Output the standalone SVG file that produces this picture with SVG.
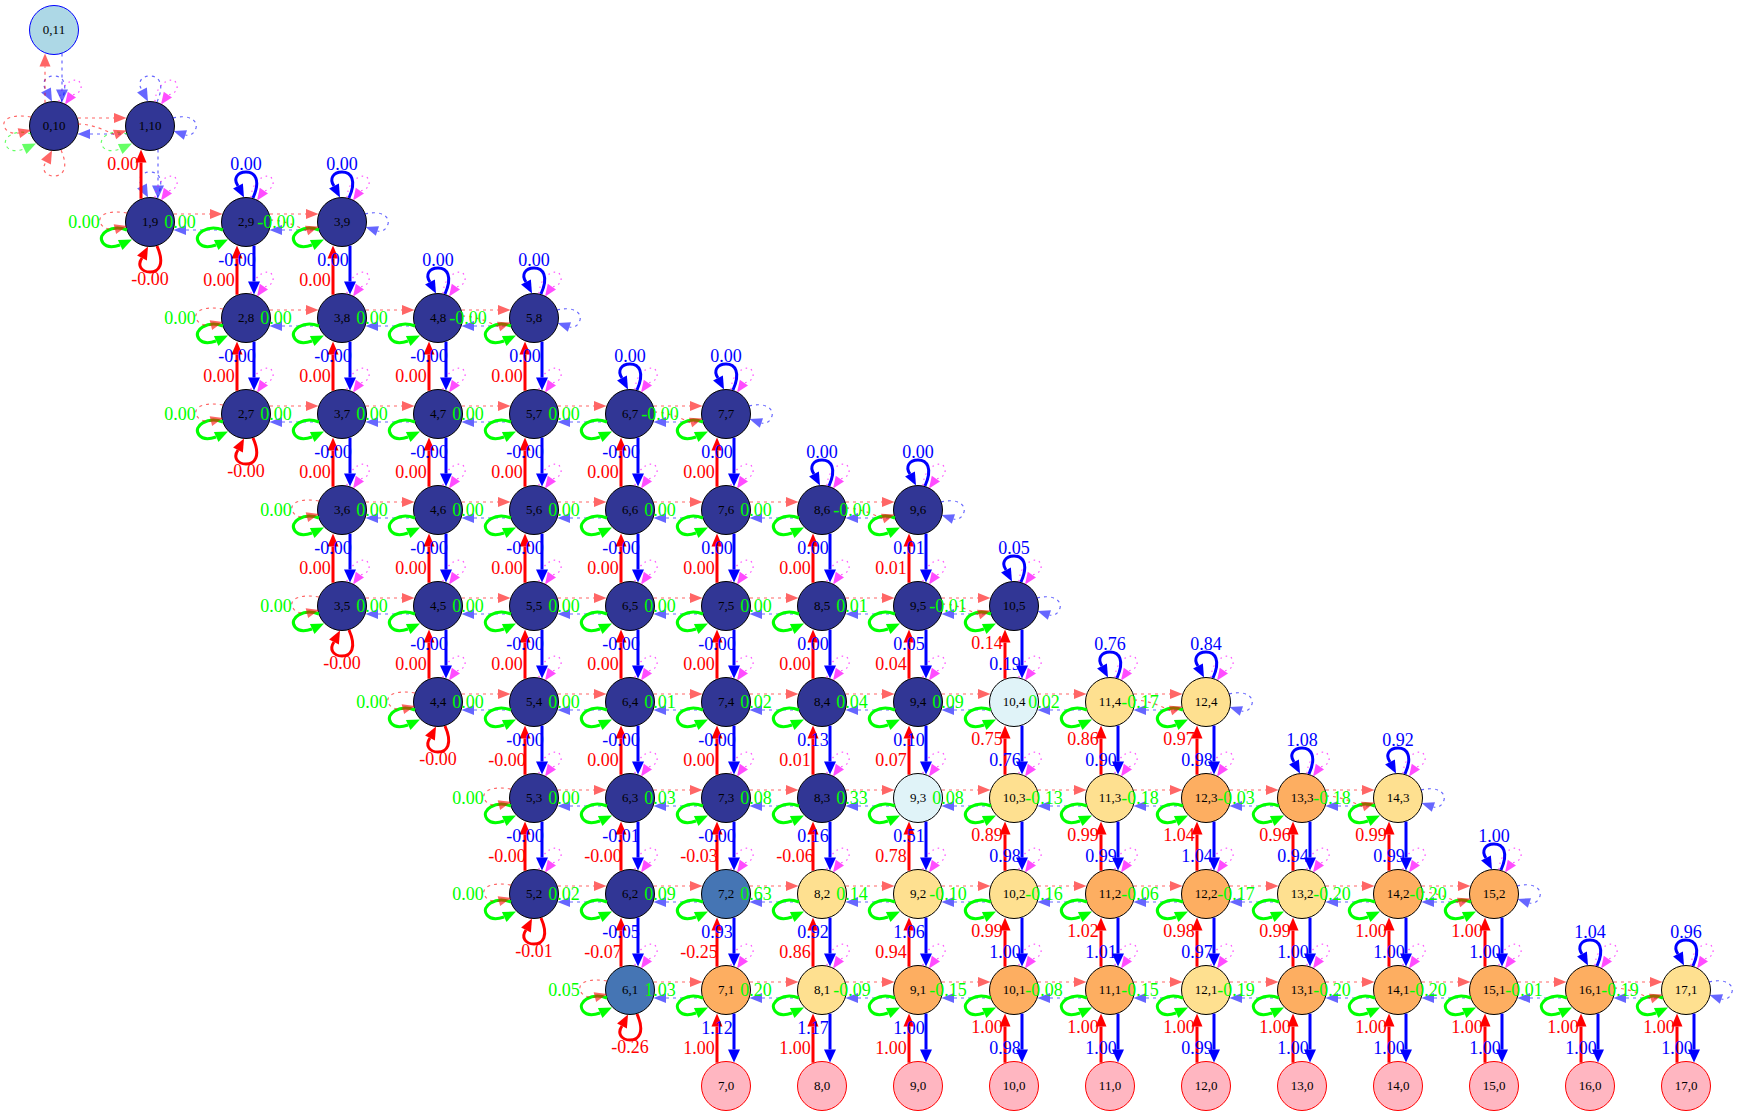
<svg xmlns="http://www.w3.org/2000/svg" width="1741" height="1117" viewBox="0 0 1741 1117">
<defs>
<style>
circle{stroke:#000;stroke-width:1}
.k0{fill:#313695}.k1{fill:#4575b4}.k2{fill:#e0f3f8}.k3{fill:#fee090}.k4{fill:#fdae61}
.kt{fill:#ffb6c1;stroke:#f00}.ks{fill:#add8e6;stroke:#00f}
text{font-family:"Liberation Serif","Times New Roman",serif;text-anchor:middle}
.nl text{font-size:13px;fill:#000}
.el text{font-size:18px}
.lg{fill:#0f0}.lb{fill:#00f}.lr{fill:#f00}
.sg{fill:none;stroke:#0f0;stroke-width:3}.fg{fill:#0f0}
.sr{fill:none;stroke:#f00;stroke-width:3}.fr{fill:#f00}
.sb{fill:none;stroke:#00f;stroke-width:3}.fb{fill:#00f}
.dr{fill:none;stroke:#f00;stroke-width:1.2;stroke-dasharray:3,4;opacity:.6}.ar{fill:#f00;opacity:.6}
.db{fill:none;stroke:#00f;stroke-width:1.2;stroke-dasharray:3,4;opacity:.6}.ab{fill:#00f;opacity:.6}
.dg{fill:none;stroke:#0f0;stroke-width:1.2;stroke-dasharray:3,4;opacity:.6}.ag{fill:#0f0;opacity:.6}
.dm{fill:none;stroke:#f0f;stroke-width:1.2;stroke-dasharray:1.5,4;opacity:.7}.am{fill:#f0f;opacity:.7}
</style>
<g id="gL"><path class="sg" d="M-23,8C-38,2 -54,12 -47,21C-43,26 -36,25 -30,23"/><polygon class="fg" points="-18,17.5 -27.5,28 -32.1,18"/></g>
<g id="gLd"><path class="dg" d="M-23,8C-38,2 -54,12 -47,21C-43,26 -36,25 -30,23"/><polygon class="ag" points="-18,17.5 -27.5,28 -32.1,18"/></g>
<g id="mL"><path class="dm" d="M5,-24.5C6,-45 26,-52 27,-40C28,-34 22,-32 18,-31"/><polygon class="am" points="11,-21.5 13.8,-34.2 22,-28.4"/></g>
<g id="rH"><path class="dr" d="M-72,-8H-36"/><polygon class="ar" points="-23.5,-8 -36,-13 -36,-3"/></g>
<g id="rLL"><path class="dr" d="M-23,-9C-40,-12 -52,-8 -50,0C-48,6 -42,8 -35,7"/><polygon class="ar" points="-23,4 -36.3,2.2 -33.9,11.9"/></g>
<g id="r2"><path class="dr" d="M-72,-2C-58,-2 -46,4 -35.4,8.5"/><polygon class="ar" points="-23.5,4.5 -37,3.7 -33.8,13.2"/></g>
<g id="bH"><path class="db" d="M36,8H72"/><polygon class="ab" points="23.5,8 36,3 36,13"/></g>
<g id="bRL"><path class="db" d="M23,-8C38,-12 48,-6 46,2C44,8 40,10 35.4,9"/><polygon class="ab" points="23.5,5 37,4.2 33.8,13.7"/></g>
<g id="bT"><path class="sb" d="M7,-24C15,-42 9,-50 0,-50C-9,-50 -13,-43 -8,-36"/><polygon class="fb" points="-2,-24.5 -12.9,-33.5 -3.1,-38.5"/></g>
<g id="bTd"><path class="db" d="M7,-24C15,-42 9,-50 0,-50C-9,-50 -13,-43 -8,-36"/><polygon class="ab" points="-2,-24.5 -12.9,-33.5 -3.1,-38.5"/></g>
<g id="rB"><path class="sr" d="M7,24C15,42 9,50 0,50C-9,50 -13,43 -8,36"/><polygon class="fr" points="-2,24.5 -12.9,33.5 -3.1,38.5"/></g>
<g id="rBd"><path class="dr" d="M7,24C15,42 9,50 0,50C-9,50 -13,43 -8,36"/><polygon class="ar" points="-2,24.5 -12.9,33.5 -3.1,38.5"/></g>
<g id="rV"><path class="sr" d="M-9,-23.3V-59.5"/><polygon class="fr" points="-9,-72.5 -14.5,-59.5 -3.5,-59.5"/></g>
<g id="bV"><path class="sb" d="M8,23.6V59.5"/><polygon class="fb" points="8,72.5 2,59.5 14,59.5"/></g>
<g id="rVd"><path class="dr" d="M-9,-23.3V-59.5"/><polygon class="ar" points="-9,-72.5 -14.5,-59.5 -3.5,-59.5"/></g>
<g id="bVd"><path class="db" d="M8,23.6V59.5"/><polygon class="ab" points="8,72.5 2,59.5 14,59.5"/></g>
<g id="vp"><use href="#rV"/><use href="#bV" y="-96"/></g>
<g id="std"><use href="#gL"/><use href="#mL"/><use href="#rH"/><use href="#bH"/></g>
<g id="lft"><use href="#gL"/><use href="#mL"/><use href="#rLL"/><use href="#bH"/></g>
<g id="rgt"><use href="#gL"/><use href="#mL"/><use href="#rH"/><use href="#bRL"/><use href="#r2"/></g>
</defs>
<rect width="1741" height="1117" fill="#fff"/>
<g id="nodes" class="nl">
<g id="n0_11"><circle class="ks" cx="54" cy="30" r="24.5"/><text x="54" y="34.4">0,11</text></g>
<g id="n0_10"><circle class="k0" cx="54" cy="126" r="24.5"/><text x="54" y="130.4">0,10</text></g>
<g id="n1_10"><circle class="k0" cx="150" cy="126" r="24.5"/><text x="150" y="130.4">1,10</text></g>
<g id="n1_9"><circle class="k0" cx="150" cy="222" r="24.5"/><text x="150" y="226.4">1,9</text></g>
<g id="n2_9"><circle class="k0" cx="246" cy="222" r="24.5"/><text x="246" y="226.4">2,9</text></g>
<g id="n3_9"><circle class="k0" cx="342" cy="222" r="24.5"/><text x="342" y="226.4">3,9</text></g>
<g id="n2_8"><circle class="k0" cx="246" cy="318" r="24.5"/><text x="246" y="322.4">2,8</text></g>
<g id="n3_8"><circle class="k0" cx="342" cy="318" r="24.5"/><text x="342" y="322.4">3,8</text></g>
<g id="n4_8"><circle class="k0" cx="438" cy="318" r="24.5"/><text x="438" y="322.4">4,8</text></g>
<g id="n5_8"><circle class="k0" cx="534" cy="318" r="24.5"/><text x="534" y="322.4">5,8</text></g>
<g id="n2_7"><circle class="k0" cx="246" cy="414" r="24.5"/><text x="246" y="418.4">2,7</text></g>
<g id="n3_7"><circle class="k0" cx="342" cy="414" r="24.5"/><text x="342" y="418.4">3,7</text></g>
<g id="n4_7"><circle class="k0" cx="438" cy="414" r="24.5"/><text x="438" y="418.4">4,7</text></g>
<g id="n5_7"><circle class="k0" cx="534" cy="414" r="24.5"/><text x="534" y="418.4">5,7</text></g>
<g id="n6_7"><circle class="k0" cx="630" cy="414" r="24.5"/><text x="630" y="418.4">6,7</text></g>
<g id="n7_7"><circle class="k0" cx="726" cy="414" r="24.5"/><text x="726" y="418.4">7,7</text></g>
<g id="n3_6"><circle class="k0" cx="342" cy="510" r="24.5"/><text x="342" y="514.4">3,6</text></g>
<g id="n4_6"><circle class="k0" cx="438" cy="510" r="24.5"/><text x="438" y="514.4">4,6</text></g>
<g id="n5_6"><circle class="k0" cx="534" cy="510" r="24.5"/><text x="534" y="514.4">5,6</text></g>
<g id="n6_6"><circle class="k0" cx="630" cy="510" r="24.5"/><text x="630" y="514.4">6,6</text></g>
<g id="n7_6"><circle class="k0" cx="726" cy="510" r="24.5"/><text x="726" y="514.4">7,6</text></g>
<g id="n8_6"><circle class="k0" cx="822" cy="510" r="24.5"/><text x="822" y="514.4">8,6</text></g>
<g id="n9_6"><circle class="k0" cx="918" cy="510" r="24.5"/><text x="918" y="514.4">9,6</text></g>
<g id="n3_5"><circle class="k0" cx="342" cy="606" r="24.5"/><text x="342" y="610.4">3,5</text></g>
<g id="n4_5"><circle class="k0" cx="438" cy="606" r="24.5"/><text x="438" y="610.4">4,5</text></g>
<g id="n5_5"><circle class="k0" cx="534" cy="606" r="24.5"/><text x="534" y="610.4">5,5</text></g>
<g id="n6_5"><circle class="k0" cx="630" cy="606" r="24.5"/><text x="630" y="610.4">6,5</text></g>
<g id="n7_5"><circle class="k0" cx="726" cy="606" r="24.5"/><text x="726" y="610.4">7,5</text></g>
<g id="n8_5"><circle class="k0" cx="822" cy="606" r="24.5"/><text x="822" y="610.4">8,5</text></g>
<g id="n9_5"><circle class="k0" cx="918" cy="606" r="24.5"/><text x="918" y="610.4">9,5</text></g>
<g id="n10_5"><circle class="k0" cx="1014" cy="606" r="24.5"/><text x="1014" y="610.4">10,5</text></g>
<g id="n4_4"><circle class="k0" cx="438" cy="702" r="24.5"/><text x="438" y="706.4">4,4</text></g>
<g id="n5_4"><circle class="k0" cx="534" cy="702" r="24.5"/><text x="534" y="706.4">5,4</text></g>
<g id="n6_4"><circle class="k0" cx="630" cy="702" r="24.5"/><text x="630" y="706.4">6,4</text></g>
<g id="n7_4"><circle class="k0" cx="726" cy="702" r="24.5"/><text x="726" y="706.4">7,4</text></g>
<g id="n8_4"><circle class="k0" cx="822" cy="702" r="24.5"/><text x="822" y="706.4">8,4</text></g>
<g id="n9_4"><circle class="k0" cx="918" cy="702" r="24.5"/><text x="918" y="706.4">9,4</text></g>
<g id="n10_4"><circle class="k2" cx="1014" cy="702" r="24.5"/><text x="1014" y="706.4">10,4</text></g>
<g id="n11_4"><circle class="k3" cx="1110" cy="702" r="24.5"/><text x="1110" y="706.4">11,4</text></g>
<g id="n12_4"><circle class="k3" cx="1206" cy="702" r="24.5"/><text x="1206" y="706.4">12,4</text></g>
<g id="n5_3"><circle class="k0" cx="534" cy="798" r="24.5"/><text x="534" y="802.4">5,3</text></g>
<g id="n6_3"><circle class="k0" cx="630" cy="798" r="24.5"/><text x="630" y="802.4">6,3</text></g>
<g id="n7_3"><circle class="k0" cx="726" cy="798" r="24.5"/><text x="726" y="802.4">7,3</text></g>
<g id="n8_3"><circle class="k0" cx="822" cy="798" r="24.5"/><text x="822" y="802.4">8,3</text></g>
<g id="n9_3"><circle class="k2" cx="918" cy="798" r="24.5"/><text x="918" y="802.4">9,3</text></g>
<g id="n10_3"><circle class="k3" cx="1014" cy="798" r="24.5"/><text x="1014" y="802.4">10,3</text></g>
<g id="n11_3"><circle class="k3" cx="1110" cy="798" r="24.5"/><text x="1110" y="802.4">11,3</text></g>
<g id="n12_3"><circle class="k4" cx="1206" cy="798" r="24.5"/><text x="1206" y="802.4">12,3</text></g>
<g id="n13_3"><circle class="k4" cx="1302" cy="798" r="24.5"/><text x="1302" y="802.4">13,3</text></g>
<g id="n14_3"><circle class="k3" cx="1398" cy="798" r="24.5"/><text x="1398" y="802.4">14,3</text></g>
<g id="n5_2"><circle class="k0" cx="534" cy="894" r="24.5"/><text x="534" y="898.4">5,2</text></g>
<g id="n6_2"><circle class="k0" cx="630" cy="894" r="24.5"/><text x="630" y="898.4">6,2</text></g>
<g id="n7_2"><circle class="k1" cx="726" cy="894" r="24.5"/><text x="726" y="898.4">7,2</text></g>
<g id="n8_2"><circle class="k3" cx="822" cy="894" r="24.5"/><text x="822" y="898.4">8,2</text></g>
<g id="n9_2"><circle class="k3" cx="918" cy="894" r="24.5"/><text x="918" y="898.4">9,2</text></g>
<g id="n10_2"><circle class="k3" cx="1014" cy="894" r="24.5"/><text x="1014" y="898.4">10,2</text></g>
<g id="n11_2"><circle class="k4" cx="1110" cy="894" r="24.5"/><text x="1110" y="898.4">11,2</text></g>
<g id="n12_2"><circle class="k4" cx="1206" cy="894" r="24.5"/><text x="1206" y="898.4">12,2</text></g>
<g id="n13_2"><circle class="k3" cx="1302" cy="894" r="24.5"/><text x="1302" y="898.4">13,2</text></g>
<g id="n14_2"><circle class="k4" cx="1398" cy="894" r="24.5"/><text x="1398" y="898.4">14,2</text></g>
<g id="n15_2"><circle class="k4" cx="1494" cy="894" r="24.5"/><text x="1494" y="898.4">15,2</text></g>
<g id="n6_1"><circle class="k1" cx="630" cy="990" r="24.5"/><text x="630" y="994.4">6,1</text></g>
<g id="n7_1"><circle class="k4" cx="726" cy="990" r="24.5"/><text x="726" y="994.4">7,1</text></g>
<g id="n8_1"><circle class="k3" cx="822" cy="990" r="24.5"/><text x="822" y="994.4">8,1</text></g>
<g id="n9_1"><circle class="k4" cx="918" cy="990" r="24.5"/><text x="918" y="994.4">9,1</text></g>
<g id="n10_1"><circle class="k4" cx="1014" cy="990" r="24.5"/><text x="1014" y="994.4">10,1</text></g>
<g id="n11_1"><circle class="k4" cx="1110" cy="990" r="24.5"/><text x="1110" y="994.4">11,1</text></g>
<g id="n12_1"><circle class="k3" cx="1206" cy="990" r="24.5"/><text x="1206" y="994.4">12,1</text></g>
<g id="n13_1"><circle class="k4" cx="1302" cy="990" r="24.5"/><text x="1302" y="994.4">13,1</text></g>
<g id="n14_1"><circle class="k4" cx="1398" cy="990" r="24.5"/><text x="1398" y="994.4">14,1</text></g>
<g id="n15_1"><circle class="k4" cx="1494" cy="990" r="24.5"/><text x="1494" y="994.4">15,1</text></g>
<g id="n16_1"><circle class="k4" cx="1590" cy="990" r="24.5"/><text x="1590" y="994.4">16,1</text></g>
<g id="n17_1"><circle class="k3" cx="1686" cy="990" r="24.5"/><text x="1686" y="994.4">17,1</text></g>
<g id="n7_0"><circle class="kt" cx="726" cy="1086" r="24.5"/><text x="726" y="1090.4">7,0</text></g>
<g id="n8_0"><circle class="kt" cx="822" cy="1086" r="24.5"/><text x="822" y="1090.4">8,0</text></g>
<g id="n9_0"><circle class="kt" cx="918" cy="1086" r="24.5"/><text x="918" y="1090.4">9,0</text></g>
<g id="n10_0"><circle class="kt" cx="1014" cy="1086" r="24.5"/><text x="1014" y="1090.4">10,0</text></g>
<g id="n11_0"><circle class="kt" cx="1110" cy="1086" r="24.5"/><text x="1110" y="1090.4">11,0</text></g>
<g id="n12_0"><circle class="kt" cx="1206" cy="1086" r="24.5"/><text x="1206" y="1090.4">12,0</text></g>
<g id="n13_0"><circle class="kt" cx="1302" cy="1086" r="24.5"/><text x="1302" y="1090.4">13,0</text></g>
<g id="n14_0"><circle class="kt" cx="1398" cy="1086" r="24.5"/><text x="1398" y="1090.4">14,0</text></g>
<g id="n15_0"><circle class="kt" cx="1494" cy="1086" r="24.5"/><text x="1494" y="1090.4">15,0</text></g>
<g id="n16_0"><circle class="kt" cx="1590" cy="1086" r="24.5"/><text x="1590" y="1090.4">16,0</text></g>
<g id="n17_0"><circle class="kt" cx="1686" cy="1086" r="24.5"/><text x="1686" y="1090.4">17,0</text></g>
</g>
<g id="connectors">
<use href="#gLd" x="54" y="126"/><use href="#mL" x="54" y="126"/><use href="#rLL" x="54" y="126"/><use href="#bH" x="54" y="126"/><use href="#bTd" x="54" y="126"/><use href="#rBd" x="54" y="126"/><use href="#rVd" x="54" y="126"/><use href="#bVd" x="54" y="30"/>
<use href="#gLd" x="150" y="126"/><use href="#mL" x="150" y="126"/><use href="#rH" x="150" y="126"/><use href="#bRL" x="150" y="126"/><use href="#r2" x="150" y="126"/><use href="#bTd" x="150" y="126"/><use href="#bVd" x="150" y="126"/>
<use href="#lft" x="150" y="222"/><use href="#bTd" x="150" y="222"/><use href="#rB" x="150" y="222"/><use href="#rV" x="150" y="222"/>
<use href="#std" x="246" y="222"/><use href="#bT" x="246" y="222"/>
<use href="#rgt" x="342" y="222"/><use href="#bT" x="342" y="222"/>
<use href="#lft" x="246" y="318"/><use href="#std" x="342" y="318"/><use href="#std" x="438" y="318"/><use href="#bT" x="438" y="318"/><use href="#rgt" x="534" y="318"/><use href="#bT" x="534" y="318"/>
<use href="#lft" x="246" y="414"/><use href="#rB" x="246" y="414"/><use href="#std" x="342" y="414"/><use href="#std" x="438" y="414"/><use href="#std" x="534" y="414"/><use href="#std" x="630" y="414"/><use href="#bT" x="630" y="414"/><use href="#rgt" x="726" y="414"/><use href="#bT" x="726" y="414"/>
<use href="#lft" x="342" y="510"/><use href="#std" x="438" y="510"/><use href="#std" x="534" y="510"/><use href="#std" x="630" y="510"/><use href="#std" x="726" y="510"/><use href="#std" x="822" y="510"/><use href="#bT" x="822" y="510"/><use href="#rgt" x="918" y="510"/><use href="#bT" x="918" y="510"/>
<use href="#lft" x="342" y="606"/><use href="#rB" x="342" y="606"/><use href="#std" x="438" y="606"/><use href="#std" x="534" y="606"/><use href="#std" x="630" y="606"/><use href="#std" x="726" y="606"/><use href="#std" x="822" y="606"/><use href="#std" x="918" y="606"/><use href="#rgt" x="1014" y="606"/><use href="#bT" x="1014" y="606"/>
<use href="#lft" x="438" y="702"/><use href="#rB" x="438" y="702"/><use href="#std" x="534" y="702"/><use href="#std" x="630" y="702"/><use href="#std" x="726" y="702"/><use href="#std" x="822" y="702"/><use href="#std" x="918" y="702"/><use href="#std" x="1014" y="702"/><use href="#std" x="1110" y="702"/><use href="#bT" x="1110" y="702"/><use href="#rgt" x="1206" y="702"/><use href="#bT" x="1206" y="702"/>
<use href="#lft" x="534" y="798"/><use href="#std" x="630" y="798"/><use href="#std" x="726" y="798"/><use href="#std" x="822" y="798"/><use href="#std" x="918" y="798"/><use href="#std" x="1014" y="798"/><use href="#std" x="1110" y="798"/><use href="#std" x="1206" y="798"/><use href="#std" x="1302" y="798"/><use href="#bT" x="1302" y="798"/><use href="#rgt" x="1398" y="798"/><use href="#bT" x="1398" y="798"/>
<use href="#lft" x="534" y="894"/><use href="#rB" x="534" y="894"/><use href="#std" x="630" y="894"/><use href="#std" x="726" y="894"/><use href="#std" x="822" y="894"/><use href="#std" x="918" y="894"/><use href="#std" x="1014" y="894"/><use href="#std" x="1110" y="894"/><use href="#std" x="1206" y="894"/><use href="#std" x="1302" y="894"/><use href="#std" x="1398" y="894"/><use href="#rgt" x="1494" y="894"/><use href="#bT" x="1494" y="894"/>
<use href="#lft" x="630" y="990"/><use href="#rB" x="630" y="990"/><use href="#std" x="726" y="990"/><use href="#std" x="822" y="990"/><use href="#std" x="918" y="990"/><use href="#std" x="1014" y="990"/><use href="#std" x="1110" y="990"/><use href="#std" x="1206" y="990"/><use href="#std" x="1302" y="990"/><use href="#std" x="1398" y="990"/><use href="#std" x="1494" y="990"/><use href="#std" x="1590" y="990"/><use href="#bT" x="1590" y="990"/><use href="#rgt" x="1686" y="990"/><use href="#bT" x="1686" y="990"/>
<use href="#vp" x="246" y="414"/><use href="#vp" x="246" y="318"/>
<use href="#vp" x="342" y="606"/><use href="#vp" x="342" y="510"/><use href="#vp" x="342" y="414"/><use href="#vp" x="342" y="318"/>
<use href="#vp" x="438" y="702"/><use href="#vp" x="438" y="606"/><use href="#vp" x="438" y="510"/><use href="#vp" x="438" y="414"/>
<use href="#vp" x="534" y="894"/><use href="#vp" x="534" y="798"/><use href="#vp" x="534" y="702"/><use href="#vp" x="534" y="606"/><use href="#vp" x="534" y="510"/><use href="#vp" x="534" y="414"/>
<use href="#vp" x="630" y="990"/><use href="#vp" x="630" y="894"/><use href="#vp" x="630" y="798"/><use href="#vp" x="630" y="702"/><use href="#vp" x="630" y="606"/><use href="#vp" x="630" y="510"/>
<use href="#vp" x="726" y="1086"/><use href="#vp" x="726" y="990"/><use href="#vp" x="726" y="894"/><use href="#vp" x="726" y="798"/><use href="#vp" x="726" y="702"/><use href="#vp" x="726" y="606"/><use href="#vp" x="726" y="510"/>
<use href="#vp" x="822" y="1086"/><use href="#vp" x="822" y="990"/><use href="#vp" x="822" y="894"/><use href="#vp" x="822" y="798"/><use href="#vp" x="822" y="702"/><use href="#vp" x="822" y="606"/>
<use href="#vp" x="918" y="1086"/><use href="#vp" x="918" y="990"/><use href="#vp" x="918" y="894"/><use href="#vp" x="918" y="798"/><use href="#vp" x="918" y="702"/><use href="#vp" x="918" y="606"/>
<use href="#vp" x="1014" y="1086"/><use href="#vp" x="1014" y="990"/><use href="#vp" x="1014" y="894"/><use href="#vp" x="1014" y="798"/><use href="#vp" x="1014" y="702"/>
<use href="#vp" x="1110" y="1086"/><use href="#vp" x="1110" y="990"/><use href="#vp" x="1110" y="894"/><use href="#vp" x="1110" y="798"/>
<use href="#vp" x="1206" y="1086"/><use href="#vp" x="1206" y="990"/><use href="#vp" x="1206" y="894"/><use href="#vp" x="1206" y="798"/>
<use href="#vp" x="1302" y="1086"/><use href="#vp" x="1302" y="990"/><use href="#vp" x="1302" y="894"/>
<use href="#vp" x="1398" y="1086"/><use href="#vp" x="1398" y="990"/><use href="#vp" x="1398" y="894"/>
<use href="#vp" x="1494" y="1086"/><use href="#vp" x="1494" y="990"/>
<use href="#vp" x="1590" y="1086"/>
<use href="#vp" x="1686" y="1086"/>
<g class="el">
<g class="lg">
<text x="84" y="228">0.00</text><text x="180" y="228">0.00</text><text x="276" y="228">-0.00</text>
<text x="180" y="324">0.00</text><text x="276" y="324">0.00</text><text x="372" y="324">0.00</text><text x="468" y="324">-0.00</text>
<text x="180" y="420">0.00</text><text x="276" y="420">0.00</text><text x="372" y="420">0.00</text><text x="468" y="420">0.00</text><text x="564" y="420">0.00</text><text x="660" y="420">-0.00</text>
<text x="276" y="516">0.00</text><text x="372" y="516">0.00</text><text x="468" y="516">0.00</text><text x="564" y="516">0.00</text><text x="660" y="516">0.00</text><text x="756" y="516">0.00</text><text x="852" y="516">-0.00</text>
<text x="276" y="612">0.00</text><text x="372" y="612">0.00</text><text x="468" y="612">0.00</text><text x="564" y="612">0.00</text><text x="660" y="612">0.00</text><text x="756" y="612">0.00</text><text x="852" y="612">0.01</text><text x="948" y="612">-0.01</text>
<text x="372" y="708">0.00</text><text x="468" y="708">0.00</text><text x="564" y="708">0.00</text><text x="660" y="708">0.01</text><text x="756" y="708">0.02</text><text x="852" y="708">0.04</text><text x="948" y="708">0.09</text><text x="1044" y="708">0.02</text><text x="1140" y="708">-0.17</text>
<text x="468" y="804">0.00</text><text x="564" y="804">0.00</text><text x="660" y="804">0.03</text><text x="756" y="804">0.08</text><text x="852" y="804">0.33</text><text x="948" y="804">0.08</text><text x="1044" y="804">-0.13</text><text x="1140" y="804">-0.18</text><text x="1236" y="804">-0.03</text><text x="1332" y="804">-0.18</text>
<text x="468" y="900">0.00</text><text x="564" y="900">0.02</text><text x="660" y="900">0.09</text><text x="756" y="900">0.63</text><text x="852" y="900">0.14</text><text x="948" y="900">-0.10</text><text x="1044" y="900">-0.16</text><text x="1140" y="900">-0.06</text><text x="1236" y="900">-0.17</text><text x="1332" y="900">-0.20</text><text x="1428" y="900">-0.20</text>
<text x="564" y="996">0.05</text><text x="660" y="996">1.03</text><text x="756" y="996">0.20</text><text x="852" y="996">-0.09</text><text x="948" y="996">-0.15</text><text x="1044" y="996">-0.08</text><text x="1140" y="996">-0.15</text><text x="1236" y="996">-0.19</text><text x="1332" y="996">-0.20</text><text x="1428" y="996">-0.20</text><text x="1524" y="996">-0.01</text><text x="1620" y="996">-0.19</text>
</g>
<g class="lb">
<text x="246" y="170">0.00</text><text x="342" y="170">0.00</text><text x="438" y="266">0.00</text><text x="534" y="266">0.00</text><text x="630" y="362">0.00</text><text x="726" y="362">0.00</text><text x="822" y="458">0.00</text><text x="918" y="458">0.00</text><text x="1014" y="554">0.05</text><text x="1110" y="650">0.76</text><text x="1206" y="650">0.84</text><text x="1302" y="746">1.08</text><text x="1398" y="746">0.92</text><text x="1494" y="842">1.00</text><text x="1590" y="938">1.04</text><text x="1686" y="938">0.96</text>
<text x="237" y="266">-0.00</text><text x="237" y="362">-0.00</text>
<text x="333" y="266">0.00</text><text x="333" y="362">-0.00</text><text x="333" y="458">-0.00</text><text x="333" y="554">-0.00</text>
<text x="429" y="362">-0.00</text><text x="429" y="458">-0.00</text><text x="429" y="554">-0.00</text><text x="429" y="650">-0.00</text>
<text x="525" y="362">0.00</text><text x="525" y="458">-0.00</text><text x="525" y="554">-0.00</text><text x="525" y="650">-0.00</text><text x="525" y="746">-0.00</text><text x="525" y="842">-0.00</text>
<text x="621" y="458">-0.00</text><text x="621" y="554">-0.00</text><text x="621" y="650">-0.00</text><text x="621" y="746">-0.00</text><text x="621" y="842">-0.01</text><text x="621" y="938">-0.05</text>
<text x="717" y="458">0.00</text><text x="717" y="554">0.00</text><text x="717" y="650">-0.00</text><text x="717" y="746">-0.00</text><text x="717" y="842">-0.00</text><text x="717" y="938">0.93</text><text x="717" y="1034">1.12</text>
<text x="813" y="554">0.00</text><text x="813" y="650">0.00</text><text x="813" y="746">0.13</text><text x="813" y="842">0.16</text><text x="813" y="938">0.92</text><text x="813" y="1034">1.17</text>
<text x="909" y="554">0.01</text><text x="909" y="650">0.05</text><text x="909" y="746">0.10</text><text x="909" y="842">0.51</text><text x="909" y="938">1.06</text><text x="909" y="1034">1.00</text>
<text x="1005" y="670">0.19</text><text x="1005" y="766">0.76</text><text x="1005" y="862">0.98</text><text x="1005" y="958">1.00</text><text x="1005" y="1054">0.98</text>
<text x="1101" y="766">0.90</text><text x="1101" y="862">0.99</text><text x="1101" y="958">1.01</text><text x="1101" y="1054">1.00</text>
<text x="1197" y="766">0.98</text><text x="1197" y="862">1.04</text><text x="1197" y="958">0.97</text><text x="1197" y="1054">0.99</text>
<text x="1293" y="862">0.94</text><text x="1293" y="958">1.00</text><text x="1293" y="1054">1.00</text>
<text x="1389" y="862">0.99</text><text x="1389" y="958">1.00</text><text x="1389" y="1054">1.00</text>
<text x="1485" y="958">1.00</text><text x="1485" y="1054">1.00</text>
<text x="1581" y="1054">1.00</text>
<text x="1677" y="1054">1.00</text>
</g>
<g class="lr">
<text x="150" y="285">-0.00</text><text x="246" y="477">-0.00</text><text x="342" y="669">-0.00</text><text x="438" y="765">-0.00</text><text x="534" y="957">-0.01</text><text x="630" y="1053">-0.26</text>
<text x="123" y="170">0.00</text>
<text x="219" y="286">0.00</text><text x="219" y="382">0.00</text>
<text x="315" y="286">0.00</text><text x="315" y="382">0.00</text><text x="315" y="478">0.00</text><text x="315" y="574">0.00</text>
<text x="411" y="382">0.00</text><text x="411" y="478">0.00</text><text x="411" y="574">0.00</text><text x="411" y="670">0.00</text>
<text x="507" y="382">0.00</text><text x="507" y="478">0.00</text><text x="507" y="574">0.00</text><text x="507" y="670">0.00</text><text x="507" y="766">-0.00</text><text x="507" y="862">-0.00</text>
<text x="603" y="478">0.00</text><text x="603" y="574">0.00</text><text x="603" y="670">0.00</text><text x="603" y="766">0.00</text><text x="603" y="862">-0.00</text><text x="603" y="958">-0.07</text>
<text x="699" y="478">0.00</text><text x="699" y="574">0.00</text><text x="699" y="670">0.00</text><text x="699" y="766">0.00</text><text x="699" y="862">-0.03</text><text x="699" y="958">-0.25</text><text x="699" y="1054">1.00</text>
<text x="795" y="574">0.00</text><text x="795" y="670">0.00</text><text x="795" y="766">0.01</text><text x="795" y="862">-0.06</text><text x="795" y="958">0.86</text><text x="795" y="1054">1.00</text>
<text x="891" y="574">0.01</text><text x="891" y="670">0.04</text><text x="891" y="766">0.07</text><text x="891" y="862">0.78</text><text x="891" y="958">0.94</text><text x="891" y="1054">1.00</text>
<text x="987" y="649">0.14</text><text x="987" y="745">0.75</text><text x="987" y="841">0.89</text><text x="987" y="937">0.99</text><text x="987" y="1033">1.00</text>
<text x="1083" y="745">0.86</text><text x="1083" y="841">0.99</text><text x="1083" y="937">1.02</text><text x="1083" y="1033">1.00</text>
<text x="1179" y="745">0.97</text><text x="1179" y="841">1.04</text><text x="1179" y="937">0.98</text><text x="1179" y="1033">1.00</text>
<text x="1275" y="841">0.96</text><text x="1275" y="937">0.99</text><text x="1275" y="1033">1.00</text>
<text x="1371" y="841">0.99</text><text x="1371" y="937">1.00</text><text x="1371" y="1033">1.00</text>
<text x="1467" y="937">1.00</text><text x="1467" y="1033">1.00</text>
<text x="1563" y="1033">1.00</text>
<text x="1659" y="1033">1.00</text>
</g>
</g>
</g>
</svg>
